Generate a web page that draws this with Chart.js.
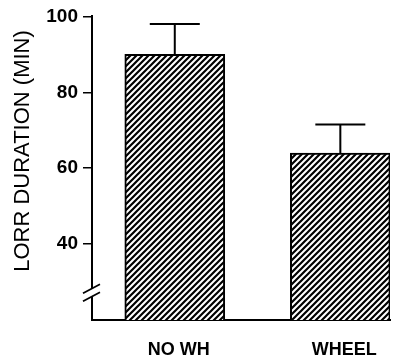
<!DOCTYPE html>
<html><head><meta charset="utf-8">
<script src="https://cdn.jsdelivr.net/npm/chart.js@4.4.1/dist/chart.umd.min.js"></script>
<style>html,body{margin:0;padding:0;background:#fff;overflow:hidden}#wrap{width:398px;height:358px}</style>
</head><body><div id="wrap"><canvas id="c" width="398" height="358"></canvas></div>
<script>
// ---- data ----
const categories = ['NO WH', 'WHEEL'];
const positions = [1, 2];
const means = [90, 64];
const errTop = [98, 71.5];
const yTicks = [40, 60, 80, 100];
const yTitle = 'LORR DURATION (MIN)';
const axisBreakValue = 27.2;

// ---- hatch pattern ----
function makeHatch() {
  const p = document.createElement('canvas');
  p.width = 6; p.height = 6;
  const g = p.getContext('2d');
  g.fillStyle = '#fff'; g.fillRect(0, 0, 6, 6);
  g.strokeStyle = '#000'; g.lineWidth = 2.2; g.lineCap = 'square';
  g.beginPath();
  g.moveTo(-3, 3); g.lineTo(3, -3);
  g.moveTo(0, 6); g.lineTo(6, 0);
  g.moveTo(3, 9); g.lineTo(9, 3);
  g.stroke();
  return document.getElementById('c').getContext('2d').createPattern(p, 'repeat');
}

const overlay = {
  id: 'overlay',
  afterDatasetsDraw(chart) {
    const ctx = chart.ctx, y = chart.scales.y;
    const meta = chart.getDatasetMeta(0);
    ctx.save();
    ctx.strokeStyle = '#000'; ctx.lineWidth = 2;
    meta.data.forEach((bar, i) => {
      const yt = y.getPixelForValue(errTop[i]);
      const yb = y.getPixelForValue(means[i]);
      ctx.beginPath();
      ctx.moveTo(bar.x, yb); ctx.lineTo(bar.x, yt);
      ctx.moveTo(bar.x - 25, yt); ctx.lineTo(bar.x + 25, yt);
      ctx.stroke();
    });
    ctx.restore();
  },
  afterDraw(chart) {
    const ctx = chart.ctx, y = chart.scales.y, area = chart.chartArea;
    const yc = y.getPixelForValue(axisBreakValue);
    const xa = area.left;
    ctx.save();
    ctx.fillStyle = '#fff';
    ctx.fillRect(xa - 2, yc - 4, 4, 8);
    ctx.strokeStyle = '#000'; ctx.lineWidth = 1.8;
    [-4, 4].forEach(d => {
      ctx.beginPath();
      ctx.moveTo(xa - 9, yc + d + 4.5);
      ctx.lineTo(xa + 8, yc + d - 4.5);
      ctx.stroke();
    });
    // y axis title
    ctx.translate(23, 151);
    ctx.rotate(-Math.PI / 2);
    ctx.fillStyle = '#000';
    ctx.font = '22px "Liberation Sans", Arial, sans-serif';
    ctx.textAlign = 'center'; ctx.textBaseline = 'middle';
    ctx.fillText(yTitle, 0, 0);
    ctx.restore();
  }
};

new Chart(document.getElementById('c'), {
  type: 'bar',
  data: {
    datasets: [{
      data: positions.map((x, i) => ({ x: x, y: means[i] })),
      backgroundColor: makeHatch(),
      borderColor: '#000',
      borderWidth: 2,
      borderSkipped: 'bottom',
      barThickness: 100
    }]
  },
  options: {
    responsive: false,
    animation: false,
    devicePixelRatio: 1,
    layout: { padding: { left: 0, top: 16, right: 8, bottom: 0 } },
    plugins: { legend: { display: false }, tooltip: { enabled: false } },
    scales: {
      x: {
        type: 'linear', min: 0.5, max: 2.3, offset: false,
        afterBuildTicks: s => { s.ticks = positions.map(v => ({ value: v })); },
        afterFit: s => { s.height = 38; },
        grid: { display: false, offset: false },
        border: { display: true, color: '#000', width: 2 },
        ticks: {
          callback: v => { const i = positions.indexOf(v); return i >= 0 ? categories[i] : ''; },
          font: { family: '"Liberation Sans", Arial, sans-serif', size: 18, weight: 'bold' },
          color: '#000', padding: 11, labelOffset: 4, maxRotation: 0, autoSkip: false
        }
      },
      y: {
        type: 'linear', min: 20, max: 100,
        afterBuildTicks: s => { s.ticks = yTicks.map(v => ({ value: v })); },
        afterFit: s => { s.width = 92; },
        grid: { display: true, drawOnChartArea: false, drawTicks: true, tickLength: 9, color: '#000', lineWidth: 1.5 },
        border: { display: true, color: '#000', width: 2 },
        ticks: {
          font: { family: '"Liberation Sans", Arial, sans-serif', size: 19, weight: 'bold' },
          color: '#000', padding: 5
        }
      }
    }
  },
  plugins: [overlay]
});
</script></body></html>
